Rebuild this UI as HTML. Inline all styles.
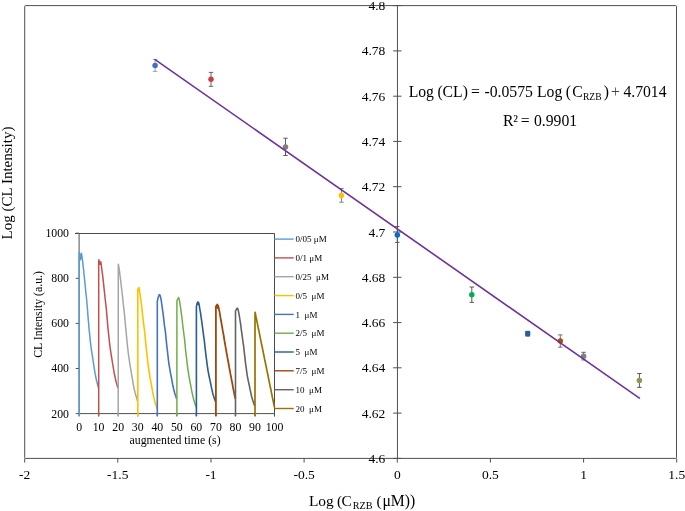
<!DOCTYPE html>
<html><head><meta charset="utf-8"><title>Calibration chart</title>
<style>html,body{margin:0;padding:0;background:#fff}svg{display:block}</style></head>
<body>
<svg width="685" height="511" viewBox="0 0 685 511" font-family="'Liberation Serif', serif" fill="#000">
<rect width="685" height="511" fill="#fff"/>
<rect x="24.7" y="5.6" width="651.8" height="452.8" rx="0.8" fill="none" stroke="#505050" stroke-width="1"/>
<line x1="397.45" y1="5.6" x2="397.45" y2="458.4" stroke="#505050" stroke-width="1"/>
<line x1="393.1" y1="458.4" x2="401.5" y2="458.4" stroke="#505050" stroke-width="1"/>
<text x="385.3" y="462.9" font-size="13.5" text-anchor="end">4.6</text>
<line x1="393.1" y1="413.1" x2="401.5" y2="413.1" stroke="#505050" stroke-width="1"/>
<text x="385.3" y="417.6" font-size="13.5" text-anchor="end">4.62</text>
<line x1="393.1" y1="367.8" x2="401.5" y2="367.8" stroke="#505050" stroke-width="1"/>
<text x="385.3" y="372.3" font-size="13.5" text-anchor="end">4.64</text>
<line x1="393.1" y1="322.6" x2="401.5" y2="322.6" stroke="#505050" stroke-width="1"/>
<text x="385.3" y="327.1" font-size="13.5" text-anchor="end">4.66</text>
<line x1="393.1" y1="277.3" x2="401.5" y2="277.3" stroke="#505050" stroke-width="1"/>
<text x="385.3" y="281.8" font-size="13.5" text-anchor="end">4.68</text>
<line x1="393.1" y1="232.0" x2="401.5" y2="232.0" stroke="#505050" stroke-width="1"/>
<text x="385.3" y="236.5" font-size="13.5" text-anchor="end">4.7</text>
<line x1="393.1" y1="186.7" x2="401.5" y2="186.7" stroke="#505050" stroke-width="1"/>
<text x="385.3" y="191.2" font-size="13.5" text-anchor="end">4.72</text>
<line x1="393.1" y1="141.4" x2="401.5" y2="141.4" stroke="#505050" stroke-width="1"/>
<text x="385.3" y="145.9" font-size="13.5" text-anchor="end">4.74</text>
<line x1="393.1" y1="96.2" x2="401.5" y2="96.2" stroke="#505050" stroke-width="1"/>
<text x="385.3" y="100.7" font-size="13.5" text-anchor="end">4.76</text>
<line x1="393.1" y1="50.9" x2="401.5" y2="50.9" stroke="#505050" stroke-width="1"/>
<text x="385.3" y="55.4" font-size="13.5" text-anchor="end">4.78</text>
<line x1="393.1" y1="5.6" x2="401.5" y2="5.6" stroke="#505050" stroke-width="1"/>
<text x="385.3" y="10.1" font-size="13.5" text-anchor="end">4.8</text>
<line x1="24.7" y1="458.4" x2="24.7" y2="462.6" stroke="#505050" stroke-width="1"/>
<text x="24.7" y="478.5" font-size="13.5" text-anchor="middle">-2</text>
<line x1="117.8" y1="458.4" x2="117.8" y2="462.6" stroke="#505050" stroke-width="1"/>
<text x="117.8" y="478.5" font-size="13.5" text-anchor="middle">-1.5</text>
<line x1="211.0" y1="458.4" x2="211.0" y2="462.6" stroke="#505050" stroke-width="1"/>
<text x="211.0" y="478.5" font-size="13.5" text-anchor="middle">-1</text>
<line x1="304.1" y1="458.4" x2="304.1" y2="462.6" stroke="#505050" stroke-width="1"/>
<text x="304.1" y="478.5" font-size="13.5" text-anchor="middle">-0.5</text>
<line x1="397.3" y1="458.4" x2="397.3" y2="462.6" stroke="#505050" stroke-width="1"/>
<text x="397.3" y="478.5" font-size="13.5" text-anchor="middle">0</text>
<line x1="490.4" y1="458.4" x2="490.4" y2="462.6" stroke="#505050" stroke-width="1"/>
<text x="490.4" y="478.5" font-size="13.5" text-anchor="middle">0.5</text>
<line x1="583.6" y1="458.4" x2="583.6" y2="462.6" stroke="#505050" stroke-width="1"/>
<text x="583.6" y="478.5" font-size="13.5" text-anchor="middle">1</text>
<line x1="676.7" y1="458.4" x2="676.7" y2="462.6" stroke="#505050" stroke-width="1"/>
<text x="676.7" y="478.5" font-size="13.5" text-anchor="middle">1.5</text>
<text transform="translate(12.1,183) rotate(-90)" font-size="15" text-anchor="middle">Log (CL Intensity)</text>
<text y="506.4" font-size="15.4"><tspan x="308.9">Log</tspan> <tspan x="337">(</tspan><tspan x="341.6">C</tspan><tspan x="352.7" y="509.4" font-size="10.2">RZB</tspan> <tspan x="376.4" y="506.4">(</tspan><tspan x="382.4" font-size="15.7">μM))</tspan></text>
<text y="97" font-size="15.7"><tspan x="408.7">Log</tspan> <tspan x="437.4">(CL)</tspan> <tspan x="470.9">=</tspan> <tspan x="484.5">-0.0575</tspan> <tspan x="537">Log</tspan> <tspan x="565.7">(</tspan><tspan x="572.2">C</tspan><tspan x="582.9" y="100.3" font-size="9.6">RZB</tspan><tspan x="603.7" y="97">)</tspan><tspan x="610.9" fill="#444">+</tspan> <tspan x="623.4">4.7014</tspan></text>
<text y="125.6" font-size="15.7"><tspan x="502.9">R²</tspan> <tspan x="520.8">=</tspan> <tspan x="534">0.9901</tspan></text>
<path d="M155.1 59.4V71.4M152.9 59.4H157.3M152.9 71.4H157.3" stroke="#a0a0a0" stroke-width="1" fill="none"/>
<circle cx="155.1" cy="65.5" r="2.75" fill="#4070C8"/>
<path d="M211.0 72.4V86.3M208.8 72.4H213.2M208.8 86.3H213.2" stroke="#666" stroke-width="1" fill="none"/>
<circle cx="211.0" cy="79.2" r="2.75" fill="#C73E45"/>
<path d="M285.5 138.2V155.5M283.3 138.2H287.7M283.3 155.5H287.7" stroke="#5a5a5a" stroke-width="1" fill="none"/>
<circle cx="285.5" cy="147.0" r="2.75" fill="#7F7F7F"/>
<path d="M341.4 188.5V202.2M339.2 188.5H343.6M339.2 202.2H343.6" stroke="#808080" stroke-width="1" fill="none"/>
<circle cx="341.4" cy="195.4" r="2.75" fill="#FFC000"/>
<path d="M397.3 226.6V242.4M395.1 226.6H399.5M395.1 242.4H399.5" stroke="#5a5a5a" stroke-width="1" fill="none"/>
<circle cx="397.3" cy="234.9" r="2.75" fill="#0070C0"/>
<path d="M471.8 287.0V302.4M469.6 287.0H474.0M469.6 302.4H474.0" stroke="#5a5a5a" stroke-width="1" fill="none"/>
<circle cx="471.8" cy="294.7" r="2.75" fill="#00B050"/>
<path d="M527.7 331.3V336.1M525.5 331.3H529.9M525.5 336.1H529.9" stroke="#666" stroke-width="1" fill="none"/>
<rect x="525.1" y="331.1" width="5.2" height="5.2" rx="1.2" fill="#2A5F9B"/>
<path d="M560.3 334.9V347.2M558.1 334.9H562.5M558.1 347.2H562.5" stroke="#707070" stroke-width="1" fill="none"/>
<circle cx="560.3" cy="340.9" r="2.75" fill="#AD4F0A"/>
<path d="M583.6 352.3V359.9M581.4 352.3H585.8M581.4 359.9H585.8" stroke="#666" stroke-width="1" fill="none"/>
<circle cx="583.6" cy="356.2" r="2.75" fill="#7F7F7F"/>
<path d="M639.4 373.5V387.4M637.2 373.5H641.6M637.2 387.4H641.6" stroke="#5a5a5a" stroke-width="1" fill="none"/>
<circle cx="639.4" cy="380.6" r="2.75" fill="#969155"/>
<line x1="155.1" y1="59.6" x2="639.4" y2="398.1" stroke="#7030A0" stroke-width="1.6" stroke-linecap="round"/>
<path d="M75.0 233.5H274.5V416.4" fill="none" stroke="#4a4a4a" stroke-width="1"/>
<path d="M79.1 233.2V413.6H274.5" fill="none" stroke="#505050" stroke-width="1"/>
<line x1="75.7" y1="413.6" x2="79.1" y2="413.6" stroke="#505050" stroke-width="1"/>
<text x="69" y="417.5" font-size="11.8" text-anchor="end">200</text>
<line x1="75.7" y1="368.5" x2="79.1" y2="368.5" stroke="#505050" stroke-width="1"/>
<text x="69" y="372.4" font-size="11.8" text-anchor="end">400</text>
<line x1="75.7" y1="323.4" x2="79.1" y2="323.4" stroke="#505050" stroke-width="1"/>
<text x="69" y="327.3" font-size="11.8" text-anchor="end">600</text>
<line x1="75.7" y1="278.3" x2="79.1" y2="278.3" stroke="#505050" stroke-width="1"/>
<text x="69" y="282.2" font-size="11.8" text-anchor="end">800</text>
<line x1="75.7" y1="233.2" x2="79.1" y2="233.2" stroke="#505050" stroke-width="1"/>
<text x="69" y="237.1" font-size="11.8" text-anchor="end">1000</text>
<line x1="79.1" y1="413.6" x2="79.1" y2="416.4" stroke="#505050" stroke-width="1"/>
<text x="79.1" y="430.8" font-size="11.8" text-anchor="middle">0</text>
<line x1="98.6" y1="413.6" x2="98.6" y2="416.4" stroke="#505050" stroke-width="1"/>
<text x="98.6" y="430.8" font-size="11.8" text-anchor="middle">10</text>
<line x1="118.2" y1="413.6" x2="118.2" y2="416.4" stroke="#505050" stroke-width="1"/>
<text x="118.2" y="430.8" font-size="11.8" text-anchor="middle">20</text>
<line x1="137.7" y1="413.6" x2="137.7" y2="416.4" stroke="#505050" stroke-width="1"/>
<text x="137.7" y="430.8" font-size="11.8" text-anchor="middle">30</text>
<line x1="157.3" y1="413.6" x2="157.3" y2="416.4" stroke="#505050" stroke-width="1"/>
<text x="157.3" y="430.8" font-size="11.8" text-anchor="middle">40</text>
<line x1="176.8" y1="413.6" x2="176.8" y2="416.4" stroke="#505050" stroke-width="1"/>
<text x="176.8" y="430.8" font-size="11.8" text-anchor="middle">50</text>
<line x1="196.3" y1="413.6" x2="196.3" y2="416.4" stroke="#505050" stroke-width="1"/>
<text x="196.3" y="430.8" font-size="11.8" text-anchor="middle">60</text>
<line x1="215.9" y1="413.6" x2="215.9" y2="416.4" stroke="#505050" stroke-width="1"/>
<text x="215.9" y="430.8" font-size="11.8" text-anchor="middle">70</text>
<line x1="235.4" y1="413.6" x2="235.4" y2="416.4" stroke="#505050" stroke-width="1"/>
<text x="235.4" y="430.8" font-size="11.8" text-anchor="middle">80</text>
<line x1="255.0" y1="413.6" x2="255.0" y2="416.4" stroke="#505050" stroke-width="1"/>
<text x="255.0" y="430.8" font-size="11.8" text-anchor="middle">90</text>
<line x1="274.5" y1="413.6" x2="274.5" y2="416.4" stroke="#505050" stroke-width="1"/>
<text x="274.5" y="430.8" font-size="11.8" text-anchor="middle">100</text>
<text x="175.1" y="443.7" font-size="11.8" text-anchor="middle">augmented time (s)</text>
<text transform="translate(41.8,314.4) rotate(-90)" font-size="11.8" text-anchor="middle">CL Intensity (a.u.)</text>
<path d="M79.2 416.3 L79.2 254.8 L79.4 252.6 L80.5 259.8 L81.4 253.3 L81.9 255.8 L82.5 260.2 L83.0 264.9 L83.6 269.8 L84.1 275.0 L84.7 280.7 L85.3 286.6 L85.8 292.1 L86.4 297.3 L86.9 302.8 L87.5 309.6 L88.0 316.6 L88.6 323.0 L89.1 329.1 L89.7 334.9 L90.2 340.3 L90.8 345.1 L91.3 349.3 L91.9 353.0 L92.5 356.6 L93.0 360.2 L93.6 364.0 L94.1 367.6 L94.7 371.1 L95.2 374.2 L95.8 377.0 L96.3 379.6 L96.9 381.9 L97.4 384.1 L98.0 386.1 L98.5 387.9" fill="none" stroke="#5B9BD5" stroke-width="1.5" stroke-linejoin="round"/>
<line x1="274.5" y1="239.1" x2="293.7" y2="239.1" stroke="#5B9BD5" stroke-width="1.4"/>
<text x="295.6" y="242.2" font-size="9" xml:space="preserve">0/05 μM</text>
<path d="M98.7 416.3 L98.7 261.6 L98.9 259.8 L99.9 264.3 L100.8 261.8 L101.2 264.3 L101.7 268.5 L102.3 272.9 L102.9 277.6 L103.4 282.4 L104.0 287.8 L104.6 293.3 L105.1 298.5 L105.7 303.3 L106.3 308.5 L106.8 314.9 L107.4 321.4 L107.9 327.5 L108.5 333.2 L109.1 338.6 L109.6 343.7 L110.2 348.2 L110.8 352.1 L111.3 355.6 L111.9 359.0 L112.4 362.4 L113.0 365.9 L113.6 369.3 L114.1 372.6 L114.7 375.5 L115.3 378.2 L115.8 380.6 L116.4 382.8 L117.0 384.8 L117.5 386.7 L118.1 388.3" fill="none" stroke="#C0504D" stroke-width="1.5" stroke-linejoin="round"/>
<line x1="274.5" y1="257.9" x2="293.7" y2="257.9" stroke="#C0504D" stroke-width="1.4"/>
<text x="295.6" y="261.0" font-size="9" xml:space="preserve">0/1 μM</text>
<path d="M118.2 416.3 L118.3 265.7 L118.4 264.3 L119.1 268.4 L119.7 272.8 L120.3 277.5 L120.9 282.5 L121.5 287.8 L122.2 293.5 L122.8 299.4 L123.4 305.0 L124.0 310.1 L124.6 315.7 L125.2 322.5 L125.9 329.5 L126.5 336.0 L127.1 342.1 L127.7 347.9 L128.3 353.4 L129.0 358.2 L129.6 362.4 L130.2 366.1 L130.8 369.7 L131.4 373.4 L132.1 377.1 L132.7 380.8 L133.3 384.3 L133.9 387.5 L134.5 390.3 L135.1 392.9 L135.8 395.2 L136.4 397.4 L137.0 399.4 L137.6 401.2" fill="none" stroke="#A5A5A5" stroke-width="1.5" stroke-linejoin="round"/>
<line x1="274.5" y1="276.7" x2="293.7" y2="276.7" stroke="#A5A5A5" stroke-width="1.4"/>
<text x="295.6" y="279.8" font-size="9" xml:space="preserve">0/25  μM</text>
<path d="M137.8 416.3 L137.8 290.3 L138.4 288.2 L139.0 287.5 L139.4 290.3 L140.0 294.2 L140.6 298.4 L141.2 302.9 L141.8 307.5 L142.3 312.6 L142.9 317.9 L143.5 322.9 L144.1 327.5 L144.7 332.4 L145.3 338.5 L145.9 344.8 L146.5 350.5 L147.1 356.0 L147.7 361.1 L148.3 366.0 L148.9 370.3 L149.5 374.0 L150.0 377.4 L150.6 380.6 L151.2 383.8 L151.8 387.2 L152.4 390.5 L153.0 393.6 L153.6 396.4 L154.2 398.9 L154.8 401.2 L155.4 403.3 L156.0 405.3 L156.6 407.0 L157.2 408.6" fill="none" stroke="#FFC000" stroke-width="1.6" stroke-linejoin="round"/>
<line x1="274.5" y1="295.6" x2="293.7" y2="295.6" stroke="#FFC000" stroke-width="1.4"/>
<text x="295.6" y="298.7" font-size="9" xml:space="preserve">0/5  μM</text>
<path d="M157.3 416.3 L157.3 301.3 L157.9 298.6 L159.0 295.0 L159.6 294.5 L160.4 296.3 L161.0 299.0 L161.5 302.4 L162.0 305.9 L162.5 309.7 L163.1 313.6 L163.6 317.9 L164.1 322.4 L164.6 326.6 L165.2 330.4 L165.7 334.6 L166.2 339.8 L166.7 345.0 L167.3 349.9 L167.8 354.5 L168.3 358.9 L168.8 363.0 L169.4 366.6 L169.9 369.7 L170.4 372.6 L170.9 375.3 L171.5 378.0 L172.0 380.8 L172.5 383.6 L173.0 386.3 L173.6 388.6 L174.1 390.7 L174.6 392.7 L175.1 394.4 L175.7 396.1 L176.2 397.6 L176.7 398.9" fill="none" stroke="#4472C4" stroke-width="1.6" stroke-linejoin="round"/>
<line x1="274.5" y1="314.4" x2="293.7" y2="314.4" stroke="#4472C4" stroke-width="1.4"/>
<text x="295.6" y="317.5" font-size="9" xml:space="preserve">1  μM</text>
<path d="M176.9 416.3 L176.9 301.1 L177.6 299.3 L178.6 297.5 L179.3 299.7 L179.9 303.3 L180.5 307.1 L181.0 311.2 L181.6 315.4 L182.2 320.0 L182.7 324.9 L183.3 329.3 L183.8 333.5 L184.4 338.0 L185.0 343.6 L185.5 349.3 L186.1 354.5 L186.7 359.4 L187.2 364.1 L187.8 368.6 L188.4 372.5 L188.9 375.8 L189.5 378.9 L190.0 381.8 L190.6 384.8 L191.2 387.8 L191.7 390.8 L192.3 393.6 L192.9 396.2 L193.4 398.5 L194.0 400.5 L194.6 402.4 L195.1 404.2 L195.7 405.8 L196.2 407.3" fill="none" stroke="#70AD47" stroke-width="1.5" stroke-linejoin="round"/>
<line x1="274.5" y1="333.2" x2="293.7" y2="333.2" stroke="#70AD47" stroke-width="1.4"/>
<text x="295.6" y="336.3" font-size="9" xml:space="preserve">2/5  μM</text>
<path d="M196.4 416.3 L196.4 306.7 L197.0 303.6 L197.9 301.8 L198.3 304.5 L198.8 302.9 L199.4 306.3 L199.9 309.5 L200.5 312.9 L201.0 316.5 L201.6 320.3 L202.1 324.4 L202.7 328.7 L203.2 332.7 L203.7 336.4 L204.3 340.4 L204.8 345.3 L205.4 350.4 L205.9 355.1 L206.5 359.5 L207.0 363.6 L207.6 367.6 L208.1 371.1 L208.7 374.1 L209.2 376.8 L209.8 379.4 L210.3 382.0 L210.9 384.7 L211.4 387.4 L212.0 389.9 L212.5 392.2 L213.0 394.2 L213.6 396.1 L214.1 397.8 L214.7 399.4 L215.2 400.8 L215.8 402.1" fill="none" stroke="#255E91" stroke-width="1.6" stroke-linejoin="round"/>
<line x1="274.5" y1="352.0" x2="293.7" y2="352.0" stroke="#255E91" stroke-width="1.4"/>
<text x="295.6" y="355.1" font-size="9" xml:space="preserve">5  μM</text>
<path d="M215.9 416.3 L215.9 306.7 L216.7 305.1 L217.4 304.5 L217.8 308.1 L218.3 305.8 L219.0 309.4 L219.6 312.4 L220.1 315.4 L220.6 318.5 L221.2 321.5 L221.7 324.6 L222.3 327.8 L222.8 330.9 L223.4 333.9 L223.9 337.0 L224.4 340.3 L225.0 343.5 L225.5 346.7 L226.1 349.8 L226.6 353.0 L227.2 356.1 L227.7 359.1 L228.3 362.0 L228.8 365.0 L229.3 367.9 L229.9 370.8 L230.4 373.7 L231.0 376.6 L231.5 379.5 L232.1 382.3 L232.6 385.2 L233.1 388.0 L233.7 390.7 L234.2 393.5 L234.8 396.2 L235.3 398.9" fill="none" stroke="#9E480E" stroke-width="1.8" stroke-linejoin="round"/>
<line x1="274.5" y1="370.8" x2="293.7" y2="370.8" stroke="#9E480E" stroke-width="1.4"/>
<text x="295.6" y="373.9" font-size="9" xml:space="preserve">7/5  μM</text>
<path d="M235.5 416.3 L235.5 311.0 L236.4 309.2 L237.4 308.1 L238.2 309.9 L238.7 312.6 L239.3 315.7 L239.8 319.0 L240.4 322.6 L240.9 326.2 L241.4 330.3 L242.0 334.4 L242.5 338.3 L243.0 342.0 L243.6 345.9 L244.1 350.7 L244.7 355.7 L245.2 360.2 L245.7 364.5 L246.3 368.6 L246.8 372.5 L247.3 375.9 L247.9 378.8 L248.4 381.5 L249.0 384.0 L249.5 386.6 L250.0 389.2 L250.6 391.8 L251.1 394.3 L251.6 396.5 L252.2 398.5 L252.7 400.3 L253.3 401.9 L253.8 403.5 L254.3 404.9 L254.9 406.2" fill="none" stroke="#636363" stroke-width="1.6" stroke-linejoin="round"/>
<line x1="274.5" y1="389.7" x2="293.7" y2="389.7" stroke="#636363" stroke-width="1.4"/>
<text x="295.6" y="392.8" font-size="9" xml:space="preserve">10  μM</text>
<path d="M255.0 416.3 L255.0 314.2 L255.2 312.4 L255.7 315.5 L256.4 318.6 L257.0 321.6 L257.6 324.7 L258.2 327.7 L258.9 330.8 L259.5 333.8 L260.1 336.9 L260.7 339.9 L261.3 343.0 L262.0 346.0 L262.6 349.1 L263.2 352.1 L263.8 355.2 L264.4 358.2 L265.1 361.3 L265.7 364.3 L266.3 367.4 L266.9 370.4 L267.6 373.5 L268.2 376.5 L268.8 379.6 L269.4 382.6 L270.0 385.7 L270.7 388.7 L271.3 391.8 L271.9 394.9 L272.5 397.9 L273.2 401.0 L273.8 404.0 L274.4 407.1" fill="none" stroke="#997300" stroke-width="1.7" stroke-linejoin="round"/>
<line x1="274.5" y1="408.5" x2="293.7" y2="408.5" stroke="#997300" stroke-width="1.4"/>
<text x="295.6" y="411.6" font-size="9" xml:space="preserve">20  μM</text>
</svg>
</body></html>
